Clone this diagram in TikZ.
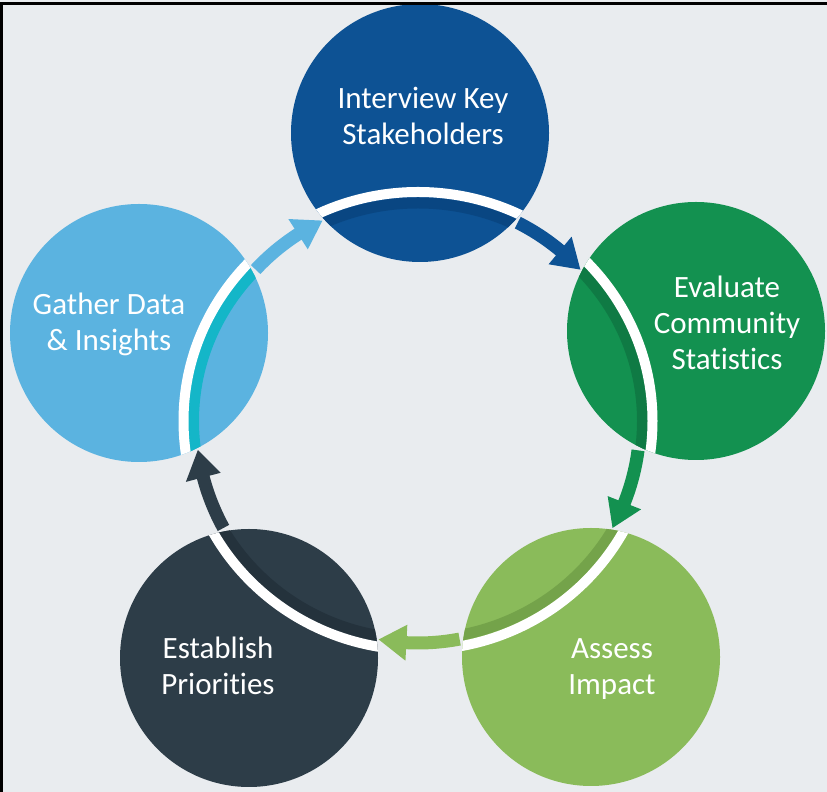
\documentclass[tikz,border=0pt]{standalone}
\usepackage{fontspec}
\setmainfont{Carlito}[Ligatures=CommonOff]
\definecolor{bgc}{RGB}{233,236,239}
\definecolor{cblue}{RGB}{13,82,148}
\definecolor{sblue}{RGB}{9,70,130}
\definecolor{cgreen}{RGB}{19,145,80}
\definecolor{sgreen}{RGB}{15,122,68}
\definecolor{clgreen}{RGB}{138,187,90}
\definecolor{slgreen}{RGB}{116,163,74}
\definecolor{cdark}{RGB}{45,61,72}
\definecolor{sdark}{RGB}{36,50,60}
\definecolor{clblue}{RGB}{91,179,224}
\definecolor{slblue}{RGB}{20,182,200}
\newcommand{\nolig}{\kern0pt}
\begin{document}
\begin{tikzpicture}[x=1pt,y=1pt,
  lbl/.style={text=white, font=\fontsize{31}{36}\selectfont, align=center, inner sep=0pt},
  disc/.style={circle, minimum size=258pt, inner sep=0pt, draw=none},
]
\useasboundingbox (0,0) rectangle (827,792);
\fill[bgc] (0,0) rectangle (827,792);

\coordinate (O) at (418,371);

% circles
\node[disc, fill=cblue]   (n1) at (420,659) {};
\node[disc, fill=cgreen]  (n2) at (696,461) {};
\node[disc, fill=clgreen] (n3) at (591,135) {};
\node[disc, fill=cdark]   (n4) at (249,134) {};
\node[disc, fill=clblue]  (n5) at (139,459) {};

% ring bands inside circles
\foreach \n/\s in {n1/sblue,n2/sgreen,n3/slgreen,n4/sdark,n5/slblue}{
  \begin{scope}
    \clip (\n.center) circle[radius=129];
    \draw[\s, line width=11] (O) ellipse[x radius=224.5, y radius=218];
    \draw[white, line width=10] (O) ellipse[x radius=234.5, y radius=229];
  \end{scope}
}

% arrows between circles
\foreach \c/\a/\b in {cblue/63.3/43.0, cgreen/-7.6/-28.8, clgreen/-79.2/-100.2, cdark/-151.2/-172.5, clblue/137/115.5}{
  \pgfmathsetmacro\h{\b+7.2}
  \pgfmathsetmacro\e{\h-0.6}
  \draw[\c, line width=13] ([shift={(\a:222)}]O) arc[start angle=\a, end angle=\e, radius=222];
  \fill[\c] ([shift={(\h:204)}]O) -- ([shift={(\b:222)}]O) -- ([shift={(\h:240)}]O) -- cycle;
}

% labels
\node[lbl] (t1) at (423,672.5) {\strut Interview Key\\\strut Stakeholders};
\node[lbl] (t2) at (727,465.7) {\strut Evaluate\\\strut Community\\\strut Stat\nolig ist\nolig ics};
\node[lbl] (t3) at (612,122.3) {\strut Assess\\\strut Impact};
\node[lbl] (t4) at (218,122.7) {\strut Establish\\\strut Priorit\nolig ies};
\node[lbl] (t5) at (109,466.7) {\strut Gather Data\\\strut \& Insights};

% frame edges
\draw[black, line width=3] (1.5,0) -- (1.5,788.5) -- (827,788.5);
\end{tikzpicture}
\end{document}
